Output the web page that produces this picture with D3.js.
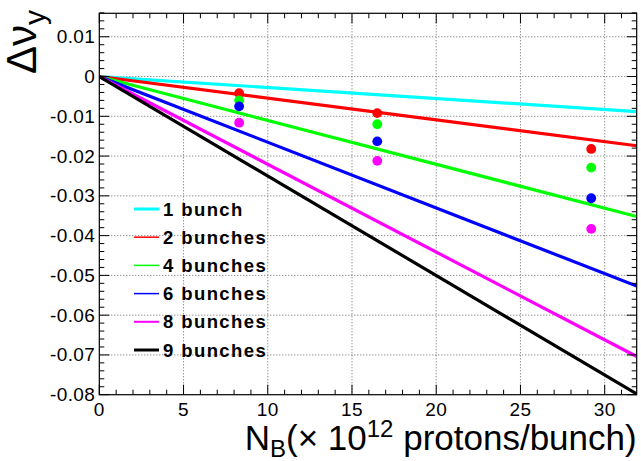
<!DOCTYPE html>
<html><head><meta charset="utf-8">
<script src="https://cdn.jsdelivr.net/npm/d3@7"></script>
<style>body{margin:0;background:#fff}svg{display:block}text{font-family:"Liberation Sans",Arial,sans-serif}</style>
</head><body>
<script>
const seriesNames = ["1 bunch","2 bunches","4 bunches","6 bunches","8 bunches","9 bunches"];
const seriesColors = ["#00ffff","#ff0000","#00ff00","#0000ff","#ff00ff","#000000"];
const lineX = [0, 31.9];
const lineY = [
  [0, -0.0088],
  [0, -0.0174],
  [0, -0.0352],
  [0, -0.0527],
  [0, -0.0704],
  [0, -0.0798]
];
const pointX = [8.3, 16.5, 29.2];
const pointSeries = [1, 2, 3, 4];
const pointY = [
  [-0.0042, -0.0092, -0.0182],
  [-0.0060, -0.0120, -0.0229],
  [-0.0075, -0.0163, -0.0306],
  [-0.0116, -0.0212, -0.0383]
];
const xTicks = [0,5,10,15,20,25,30];
const yTicks = [0.01,0,-0.01,-0.02,-0.03,-0.04,-0.05,-0.06,-0.07,-0.08];
const yTickLabels = ["0.01","0","-0.01","-0.02","-0.03","-0.04","-0.05","-0.06","-0.07","-0.08"];
const legendWidths = [3,1.5,1.5,1.5,2,3];

const W=641,H=461;
const L=99.3,R=636.7,T=13.3,B=394.7;
const x=d3.scaleLinear().domain([0,31.9]).range([L,R]);
const y=d3.scaleLinear().domain([-0.08,0.0159]).range([B,T]);
const svg=d3.select("body").append("svg").attr("width",W).attr("height",H);

// grid
const g=svg.append("g");
g.selectAll(".gx").data(xTicks.filter(d=>d>0)).join("line")
 .attr("x1",d=>x(d)).attr("x2",d=>x(d)).attr("y1",T).attr("y2",B)
 .attr("stroke","#666").attr("stroke-width",1).attr("stroke-dasharray","1,2");
g.selectAll(".gy").data(yTicks.filter(d=>d>-0.08)).join("line")
 .attr("x1",L).attr("x2",R).attr("y1",d=>y(d)).attr("y2",d=>y(d))
 .attr("stroke","#666").attr("stroke-width",1).attr("stroke-dasharray","1,2");

// lines
svg.append("clipPath").attr("id","c").append("rect").attr("x",L).attr("y",T).attr("width",R-L).attr("height",B-T);
const lg=svg.append("g").attr("clip-path","url(#c)");
const line=d3.line().x(d=>x(d[0])).y(d=>y(d[1]));
lineY.forEach((ys,i)=>{
  lg.append("path").datum(lineX.map((xv,j)=>[xv,ys[j]])).attr("d",line)
   .attr("fill","none").attr("stroke",seriesColors[i]).attr("stroke-width",3.2);
});
// points
pointY.forEach((ys,k)=>{
  svg.append("g").selectAll("circle").data(ys).join("circle")
   .attr("cx",(d,j)=>x(pointX[j])).attr("cy",d=>y(d)).attr("r",4.9)
   .attr("fill",seriesColors[pointSeries[k]]);
});

// axes: ticks inside on all four sides
const ax=svg.append("g").attr("stroke","#000").attr("stroke-width",1);
const xMinor=d3.range(0,32,1), yMinor=d3.range(-0.08,0.0161,0.002);
xMinor.forEach(v=>{
  const len = (Math.round(v)%5===0)?10:5;
  ax.append("line").attr("x1",x(v)).attr("x2",x(v)).attr("y1",B).attr("y2",B-len);
  ax.append("line").attr("x1",x(v)).attr("x2",x(v)).attr("y1",T).attr("y2",T+len);
});
yMinor.forEach(v=>{
  const n=Math.round(v/0.002);
  const len=(n%5===0)?10:5;
  ax.append("line").attr("x1",L).attr("x2",L+len).attr("y1",y(v)).attr("y2",y(v));
  ax.append("line").attr("x1",R).attr("x2",R-len).attr("y1",y(v)).attr("y2",y(v));
});
svg.append("rect").attr("x",L).attr("y",T).attr("width",R-L).attr("height",B-T)
 .attr("fill","none").attr("stroke","#000").attr("stroke-width",1.2);

// tick labels
svg.append("g").selectAll("text").data(xTicks).join("text")
 .attr("x",d=>x(d)).attr("y",B+21).attr("text-anchor","middle").attr("font-size",19).attr("letter-spacing",0.4).text(d=>d);
svg.append("g").selectAll("text").data(yTicks).join("text")
 .attr("x",L-4).attr("y",d=>y(d)+6.5).attr("text-anchor","end").attr("font-size",19).attr("letter-spacing",0.4).text((d,i)=>yTickLabels[i]);

// axis titles
const xt=svg.append("text").attr("x",R).attr("y",450).attr("text-anchor","end").attr("font-size",35);
xt.append("tspan").text("N");
xt.append("tspan").attr("font-size",24).attr("dy",7).text("B");
xt.append("tspan").attr("dy",-7).text("(× 10");
xt.append("tspan").attr("font-size",24).attr("dy",-13).text("12");
xt.append("tspan").attr("dy",13).text(" protons/bunch)");

const yt=svg.append("text").attr("transform","translate(36,10) rotate(-90)").attr("text-anchor","end").attr("font-size",42);
yt.append("tspan").text("Δν");
yt.append("tspan").attr("font-size",30).attr("dy",9).text("y");

// legend
const leg=svg.append("g");
seriesNames.forEach((s,i)=>{
  const yy=209+i*28.2;
  leg.append("line").attr("x1",134).attr("x2",159).attr("y1",yy).attr("y2",yy)
   .attr("stroke",seriesColors[i]).attr("stroke-width",legendWidths[i]);
  leg.append("text").attr("x",163).attr("y",yy+6.5).attr("font-size",18.5).attr("letter-spacing",1.4).attr("font-weight","bold").text(s);
});
</script>
</body></html>
